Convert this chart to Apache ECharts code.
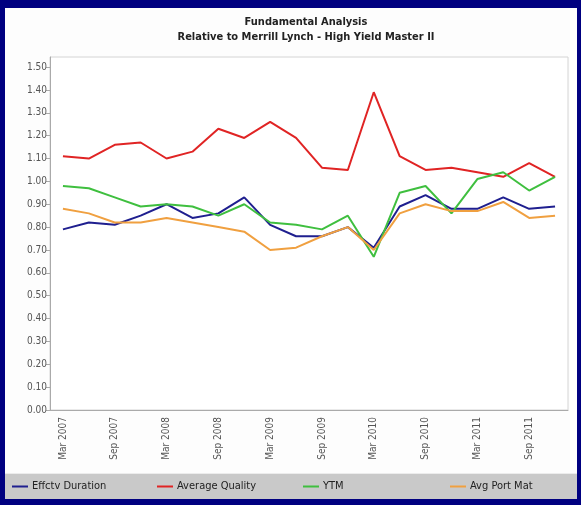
<!DOCTYPE html>
<html>
<head>
<meta charset="utf-8">
<style>
  html, body { margin: 0; padding: 0; background: #000080; }
  #chart { width: 581px; height: 505px; }
</style>
<script src="https://cdn.jsdelivr.net/npm/echarts@6/dist/echarts.min.js"></script>
</head>
<body>
<div id="chart"></div>
<script>
// Quarter-end dates, March 2007 to December 2011
const quarters = [
  'Mar 2007', 'Jun 2007', 'Sep 2007', 'Dec 2007',
  'Mar 2008', 'Jun 2008', 'Sep 2008', 'Dec 2008',
  'Mar 2009', 'Jun 2009', 'Sep 2009', 'Dec 2009',
  'Mar 2010', 'Jun 2010', 'Sep 2010', 'Dec 2010',
  'Mar 2011', 'Jun 2011', 'Sep 2011', 'Dec 2011'
];

// Portfolio characteristics relative to the benchmark
const effctvDuration = [0.79, 0.82, 0.81, 0.85, 0.90, 0.84, 0.86, 0.93, 0.81, 0.76,
                        0.76, 0.80, 0.71, 0.89, 0.94, 0.88, 0.88, 0.93, 0.88, 0.89];
const averageQuality = [1.11, 1.10, 1.16, 1.17, 1.10, 1.13, 1.23, 1.19, 1.26, 1.19,
                        1.06, 1.05, 1.39, 1.11, 1.05, 1.06, 1.04, 1.02, 1.08, 1.02];
const ytm            = [0.98, 0.97, 0.93, 0.89, 0.90, 0.89, 0.85, 0.90, 0.82, 0.81,
                        0.79, 0.85, 0.67, 0.95, 0.98, 0.86, 1.01, 1.04, 0.96, 1.02];
const avgPortMat     = [0.88, 0.86, 0.82, 0.82, 0.84, 0.82, 0.80, 0.78, 0.70, 0.71,
                        0.76, 0.80, 0.70, 0.86, 0.90, 0.87, 0.87, 0.91, 0.84, 0.85];

const seriesNames = ['Effctv Duration', 'Average Quality', 'YTM', 'Avg Port Mat'];
const yTicks = [0, 0.1, 0.2, 0.3, 0.4, 0.5, 0.6, 0.7, 0.8, 0.9, 1.0, 1.1, 1.2, 1.3, 1.4, 1.5];

const FONT = "'Liberation Sans Narrow', 'DejaVu Sans Condensed', 'Liberation Sans', sans-serif";
const colors = ['#1f1f8f', '#e02424', '#3fbf3f', '#f0a040'];
const values = [effctvDuration, averageQuality, ytm, avgPortMat];
const legendLeft = [12, 157, 303, 450];

const chart = echarts.init(document.getElementById('chart'), null, { renderer: 'canvas' });

chart.setOption({
  backgroundColor: '#000080',
  animation: false,
  graphic: [
    { type: 'rect', z: -10, silent: true,
      shape: { x: 5, y: 8, width: 572, height: 491 },
      style: { fill: '#fdfdfd' } },
    { type: 'rect', z: -9, silent: true,
      shape: { x: 5, y: 474, width: 572, height: 25 },
      style: { fill: '#c9c9c9' } },
    { type: 'rect', z: -9, silent: true,
      shape: { x: 5, y: 473, width: 572, height: 1 },
      style: { fill: '#ececec' } }
  ],
  title: {
    text: 'Fundamental Analysis\nRelative to Merrill Lynch - High Yield Master II',
    left: 301,
    top: 10,
    textAlign: 'center',
    textStyle: {
      fontFamily: FONT, fontSize: 11, fontWeight: 'bold',
      color: '#222', lineHeight: 15
    }
  },
  legend: seriesNames.map((n, i) => ({
    data: [n],
    left: legendLeft[i],
    top: 481,
    icon: 'rect',
    itemWidth: 16,
    itemHeight: 2,
    itemGap: 0,
    padding: 0,
    selectedMode: false,
    textStyle: { fontFamily: FONT, fontSize: 11, color: '#222', padding: [0, 0, 0, -1] }
  })),
  grid: {
    left: 50, right: 13, top: 57, bottom: 95,
    show: true, borderColor: '#d4d4d4', borderWidth: 1, backgroundColor: '#ffffff'
  },
  xAxis: {
    type: 'category',
    data: quarters,
    boundaryGap: true,
    axisLine: { lineStyle: { color: '#aaaaaa' } },
    axisTick: { alignWithLabel: true, interval: 0, length: 4, lineStyle: { color: '#aaaaaa' } },
    axisLabel: {
      interval: 1, rotate: 90, margin: 7,
      fontFamily: FONT, fontSize: 10, color: '#555'
    },
    splitLine: { show: false }
  },
  yAxis: {
    type: 'value',
    min: 0,
    max: 1.544,
    axisLine: { show: true, lineStyle: { color: '#aaaaaa' } },
    axisTick: { show: true, length: 4, customValues: yTicks, lineStyle: { color: '#aaaaaa' } },
    axisLabel: {
      customValues: yTicks,
      margin: 3,
      fontFamily: FONT, fontSize: 10, color: '#555',
      formatter: v => v.toFixed(2)
    },
    splitLine: { show: false }
  },
  series: seriesNames.map((n, i) => ({
    name: n,
    type: 'line',
    data: values[i],
    symbol: 'none',
    color: colors[i],
    lineStyle: { width: 2, color: colors[i] }
  }))
});
</script>
</body>
</html>
